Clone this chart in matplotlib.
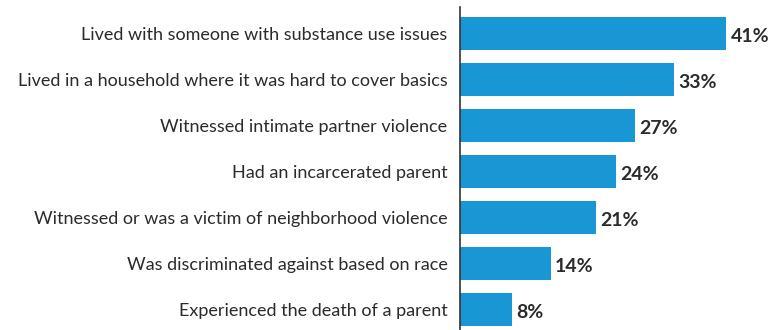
import matplotlib
matplotlib.use('Agg')
import matplotlib.pyplot as plt

labels = [
    'Lived with someone with substance use issues',
    'Lived in a household where it was hard to cover basics',
    'Witnessed intimate partner violence',
    'Had an incarcerated parent',
    'Witnessed or was a victim of neighborhood violence',
    'Was discriminated against based on race',
    'Experienced the death of a parent',
]
values = [41, 33, 27, 24, 21, 14, 8]

bar_color = '#1996d4'
text_color = '#2b2b2b'

plt.rcParams['font.family'] = ['Lato', 'DejaVu Sans']

fig = plt.figure(figsize=(7.78, 3.30), dpi=100)
ax = fig.add_axes([460 / 778, 0, 310 / 778, 323 / 330])

pos = list(range(len(labels)))
bars = ax.barh(pos, values, height=0.72, color=bar_color)

ax.set_xlim(0, 310 / 6.5)
ax.set_ylim(len(labels) - 1 + 0.446, -0.576)

ax.set_yticks(pos)
ax.set_yticklabels(labels, fontsize=13, color=text_color)
ax.tick_params(axis='y', length=0, pad=9)
ax.set_xticks([])

for s in ['top', 'right', 'bottom']:
    ax.spines[s].set_visible(False)
ax.spines['left'].set_color('#333333')
ax.spines['left'].set_linewidth(1.2)

for bar, v in zip(bars, values):
    ax.annotate(f'{v}%', (bar.get_width(), bar.get_y() + bar.get_height() / 2),
                xytext=(3, -2), textcoords='offset points',
                ha='left', va='center', fontsize=14, fontweight='bold',
                color=text_color)

fig.savefig('out.png', dpi=100)
